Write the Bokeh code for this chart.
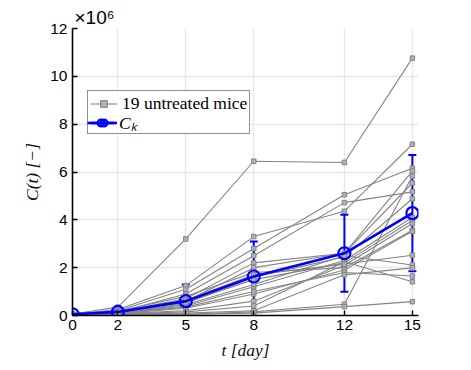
import numpy as np
from bokeh.plotting import figure
from bokeh.models import (ColumnDataSource, Whisker, TeeHead, Legend, LegendItem,
                          Title, FixedTicker, Range1d)
from bokeh.embed import file_html
from bokeh.resources import INLINE

# ---- data (values in units of 1e6) ----
days = [0, 2, 5, 8, 12, 15]
mice = [
    [0.06, 0.35, 3.20, 6.45, 6.40, 10.76],
    [0.05, 0.25, 1.25, 3.30, 4.36, 7.16],
    [0.05, 0.20, 1.10, 2.80, 5.05, 6.16],
    [0.05, 0.15, 0.90, 2.50, 4.72, 5.17],
    [0.04, 0.05, 0.05, 0.15, 0.47, 5.83],
    [0.05, 0.15, 0.70, 2.20, 2.60, 6.04],
    [0.05, 0.12, 0.60, 2.00, 2.60, 5.54],
    [0.05, 0.10, 0.50, 1.60, 2.45, 4.88],
    [0.05, 0.10, 0.40, 1.20, 2.30, 4.10],
    [0.05, 0.12, 0.55, 1.50, 2.20, 3.97],
    [0.04, 0.05, 0.05, 0.10, 0.37, 0.58],
    [0.05, 0.08, 0.20, 0.60, 2.10, 3.85],
    [0.05, 0.18, 0.80, 1.80, 2.00, 3.56],
    [0.05, 0.10, 0.45, 1.30, 2.50, 2.11],
    [0.05, 0.08, 0.30, 0.90, 1.90, 3.52],
    [0.05, 0.06, 0.15, 0.40, 2.25, 1.41],
    [0.05, 0.10, 0.35, 1.00, 1.80, 1.65],
    [0.05, 0.15, 0.65, 1.70, 2.15, 2.52],
    [0.05, 0.06, 0.10, 0.20, 1.70, 1.99],
]
ck = [0.05, 0.15, 0.60, 1.63, 2.60, 4.28]
ck_err = [0.02, 0.08, 0.70, 1.46, 1.61, 2.43]
y_ticks = [0, 2, 4, 6, 8, 10, 12]
x_ticks = days

p = figure(width=463, height=362, output_backend="svg", toolbar_location=None,
           x_range=Range1d(0, 15.27), y_range=Range1d(0, 12.0),
           min_border_left=72, min_border_right=45, min_border_top=28,
           min_border_bottom=44)
p.outline_line_color = None
p.background_fill_color = "white"

for ax in (p.xaxis[0], p.yaxis[0]):
    ax.axis_line_color = "black"
    ax.axis_line_width = 1.6
    ax.major_tick_line_color = "black"
    ax.major_tick_line_width = 1.4
    ax.major_tick_in = 5
    ax.major_tick_out = 0
    ax.minor_tick_line_color = None
    ax.major_label_text_font = "Liberation Sans"
    ax.major_label_text_font_size = "15.5px"
    ax.major_label_text_color = "black"
    ax.axis_label_text_font = "Liberation Serif"
    ax.axis_label_text_font_style = "italic"
    ax.axis_label_text_font_size = "17.5px"
    ax.axis_label_text_color = "#111111"

p.xaxis.ticker = FixedTicker(ticks=x_ticks)
p.yaxis.ticker = FixedTicker(ticks=y_ticks)
p.xaxis.major_label_standoff = 4
p.yaxis.major_label_standoff = 5
p.xaxis.axis_label = "t [day]"
p.yaxis.axis_label = "C(t) [−]"
p.xaxis.axis_label_standoff = 7
p.yaxis.axis_label_standoff = 5

p.grid.grid_line_color = "#e8e8e8"
p.grid.grid_line_width = 1.5

gray_line = None
gray_pts = None
for m in mice:
    src = ColumnDataSource(dict(x=days, y=m))
    l = p.line("x", "y", source=src, line_color="#858585", line_width=1.1)
    s = p.scatter("x", "y", source=src, marker="square", size=4.5,
                  line_color="#858585", fill_color="#b0b0b0", line_width=1)
    if gray_line is None:
        gray_line, gray_pts = l, s

lower = [c - e for c, e in zip(ck, ck_err)]
upper = [c + e for c, e in zip(ck, ck_err)]
esrc = ColumnDataSource(dict(x=days, lo=lower, hi=upper))
w = Whisker(base="x", lower="lo", upper="hi", source=esrc,
            line_color="#0000ff", line_width=2,
            upper_head=TeeHead(size=8, line_color="#0000ff", line_width=2),
            lower_head=TeeHead(size=8, line_color="#0000ff", line_width=2))
p.add_layout(w)

csrc = ColumnDataSource(dict(x=days, y=ck))
cl = p.line("x", "y", source=csrc, line_color="#0000ff", line_width=2.6)
cs = p.scatter("x", "y", source=csrc, marker="circle", size=12,
               line_color="#0000ff", line_width=2.2, fill_color=None)

def style_legend(lg, italic=False):
    lg.label_text_font = "Liberation Serif"
    lg.label_text_font_size = "17.5px"
    lg.label_text_font_style = "italic" if italic else "normal"
    lg.label_text_color = "black"
    lg.label_standoff = 5
    lg.glyph_width = 27
    lg.glyph_height = 17
    lg.label_height = 17
    lg.spacing = 0
    lg.padding = 2
    lg.margin = 0

legend = Legend(items=[
    LegendItem(label="19 untreated mice", renderers=[gray_line, gray_pts]),
    LegendItem(label=" ", renderers=[cl, cs]),
], location=(15, 181))
style_legend(legend)
legend.border_line_color = "#222222"
legend.border_line_width = 1.8
legend.background_fill_color = "white"
legend.background_fill_alpha = 1.0
p.add_layout(legend, "center")

# second legend only to give the mean curve an italic label C_k
legend2 = Legend(items=[LegendItem(label="Cₖ", renderers=[cl, cs])],
                 location=(15, 181))
style_legend(legend2, italic=True)
legend2.border_line_color = None
legend2.background_fill_alpha = 0.0
p.add_layout(legend2, "center")

p.add_layout(Title(text="×10⁶", align="left", offset=2, standoff=1,
                   text_font="Liberation Sans", text_font_size="19px",
                   text_font_style="normal", text_color="black"), "above")

open("out.html", "w").write(file_html(p, INLINE))
